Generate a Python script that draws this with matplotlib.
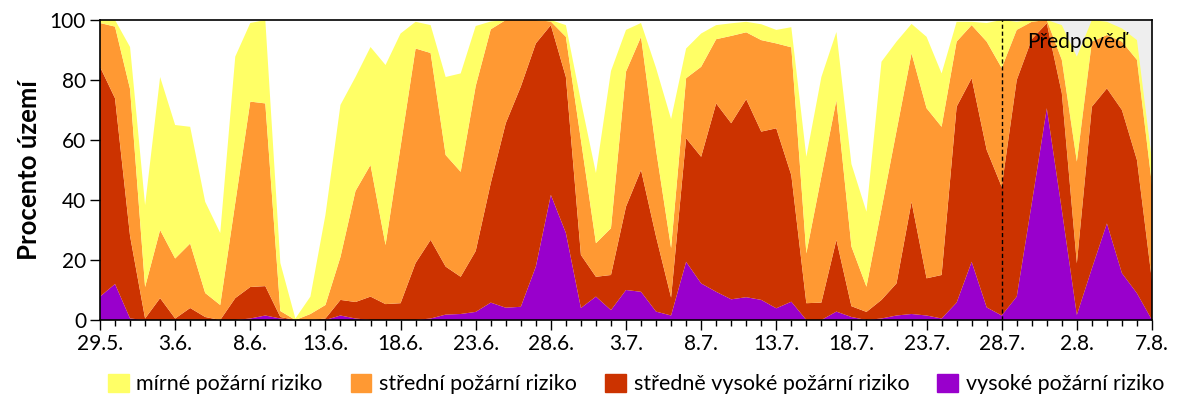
import matplotlib
matplotlib.use('Agg')
import matplotlib.pyplot as plt
import matplotlib.patches as mpatches
import numpy as np
import pandas as pd

# daily share of territory (%) per fire-risk class, 29.5. - 7.8.
dates = pd.date_range('2015-05-29', '2015-08-07', freq='D')

vysoke = [7.8, 12.0, 0.5, 0, 0, 0, 0, 0, 0, 0, 0.5, 1.5, 0.5, 0, 0, 0, 1.5, 0.5, 0, 0,
          0, 0, 0.5, 1.8, 2.0, 2.7, 5.8, 4.1, 4.4, 17.8, 41.7, 29.0, 4.0, 7.8, 3.3, 10.0, 9.4, 2.8, 1.5, 19.4,
          12.2, 9.4, 6.9, 7.6, 6.7, 3.9, 6.1, 0, 0, 2.8, 1.0, 0, 0.5, 1.5, 2.0, 1.5, 0.5, 5.8, 19.4, 4.2,
          1.5, 7.8, 38.9, 70.6, 36.7, 1.7, 17.2, 32.2, 15.6, 8.9, 0]
stredne_vysoke = [76.6, 61.9, 27.5, 0.5, 7.3, 0.5, 4.0, 1.0, 0, 7.3, 10.5, 9.8, 0.5, 0, 0, 0.5, 5.2, 5.5, 7.8, 5.3,
                  5.6, 19.0, 26.2, 16.0, 12.4, 20.3, 39.8, 61.5, 73.4, 74.4, 56.6, 52.0, 17.7, 6.6, 11.7, 27.8, 40.6, 25.0, 6.0, 41.2,
                  42.2, 62.8, 58.7, 66.0, 56.1, 60.0, 42.2, 5.6, 5.8, 23.9, 3.6, 2.7, 6.2, 10.7, 37.4, 12.4, 14.5, 65.3, 61.2, 52.5,
                  42.9, 72.2, 54.7, 28.3, 38.9, 17.2, 53.9, 45.0, 54.4, 44.4, 13.0]
stredni = [14.6, 23.9, 49.0, 10.5, 22.7, 20.0, 21.5, 8.0, 5.0, 31.7, 61.8, 60.9, 2.0, 0, 2.0, 4.5, 14.3, 37.0, 43.9, 19.7,
           52.2, 71.5, 62.3, 37.2, 35.0, 55.0, 51.3, 34.4, 22.2, 7.8, 1.2, 13.4, 38.3, 11.2, 15.6, 45.0, 44.4, 28.9, 16.5, 20.0,
           30.0, 21.4, 29.1, 22.3, 30.5, 28.3, 42.6, 16.6, 42.0, 46.6, 19.9, 8.4, 30.3, 50.8, 49.5, 56.7, 49.4, 21.7, 17.7, 36.1,
           39.6, 16.7, 5.8, 1.1, 11.1, 33.9, 21.7, 17.8, 22.8, 33.4, 32.0]
mirne = [1.0, 2.2, 14.0, 27.3, 51.0, 44.5, 38.9, 30.4, 24.0, 48.8, 26.2, 27.8, 16.0, 0.5, 5.8, 30.0, 50.7, 38.0, 39.3, 60.0,
         37.7, 8.9, 9.3, 26.0, 32.8, 20.0, 2.6, 0, 0, 0, 0.5, 3.9, 13.0, 23.4, 52.4, 13.9, 4.6, 27.3, 43.0, 9.9,
         11.1, 4.7, 4.2, 3.5, 5.3, 4.5, 6.7, 32.2, 33.2, 22.7, 27.5, 25.0, 49.1, 29.8, 9.8, 23.8, 17.8, 6.6, 1.1, 6.2,
         16.0, 2.7, 0.6, 0, 11.6, 35.0, 7.2, 4.4, 4.4, 6.6, 8.0]

labels = ['mírné požární riziko', 'střední požární riziko',
          'středně vysoké požární riziko', 'vysoké požární riziko']
colors = ['#FFFF66', '#FF9933', '#CC3300', '#9900CC']
forecast_start = 60  # index of 28.7.

plt.rcParams['font.family'] = ['Lato', 'DejaVu Sans']

x = np.arange(len(dates))
fig = plt.figure(figsize=(12, 4), dpi=100)
ax = fig.add_axes([100 / 1200, 80 / 400, 1052 / 1200, 300 / 400])

ax.axvspan(forecast_start, x[-1], color='#EEEEEE', zorder=0, lw=0)
ax.stackplot(x, vysoke, stredne_vysoke, stredni, mirne,
             colors=colors[::-1], lw=0, zorder=1)
ax.axvline(forecast_start, color='black', ls='--', lw=1, dashes=(3, 2), zorder=3)
ax.text((forecast_start + x[-1]) / 2, 92.7, 'Předpověď', ha='center', va='center',
        fontsize=15, zorder=4)

ax.set_xlim(0, x[-1])
ax.set_ylim(0, 100)
ax.set_yticks(range(0, 101, 20))
ax.set_xticks(x[::5])
ax.set_xticklabels([f'{d.day}.{d.month}.' for d in dates[::5]])
ax.set_xticks(x, minor=True)
ax.tick_params(axis='both', which='major', labelsize=15, length=7, width=1, direction='out', pad=3)
ax.tick_params(axis='x', which='minor', length=4, width=1, direction='out')
ax.set_ylabel('Procento území', fontsize=18.5, fontweight='bold', labelpad=6)
for s in ax.spines.values():
    s.set_linewidth(1.2)
    s.set_zorder(5)

handles = [mpatches.Patch(color=c, label=l) for c, l in zip(colors, labels)]
fig.legend(handles=handles, loc='center', bbox_to_anchor=(0.53, 0.04), ncol=4,
           frameon=False, fontsize=15.5, handlelength=0.95, handleheight=0.95,
           handletextpad=0.37, columnspacing=1.3, borderpad=0, borderaxespad=0)

plt.savefig('out.png', dpi=100)
